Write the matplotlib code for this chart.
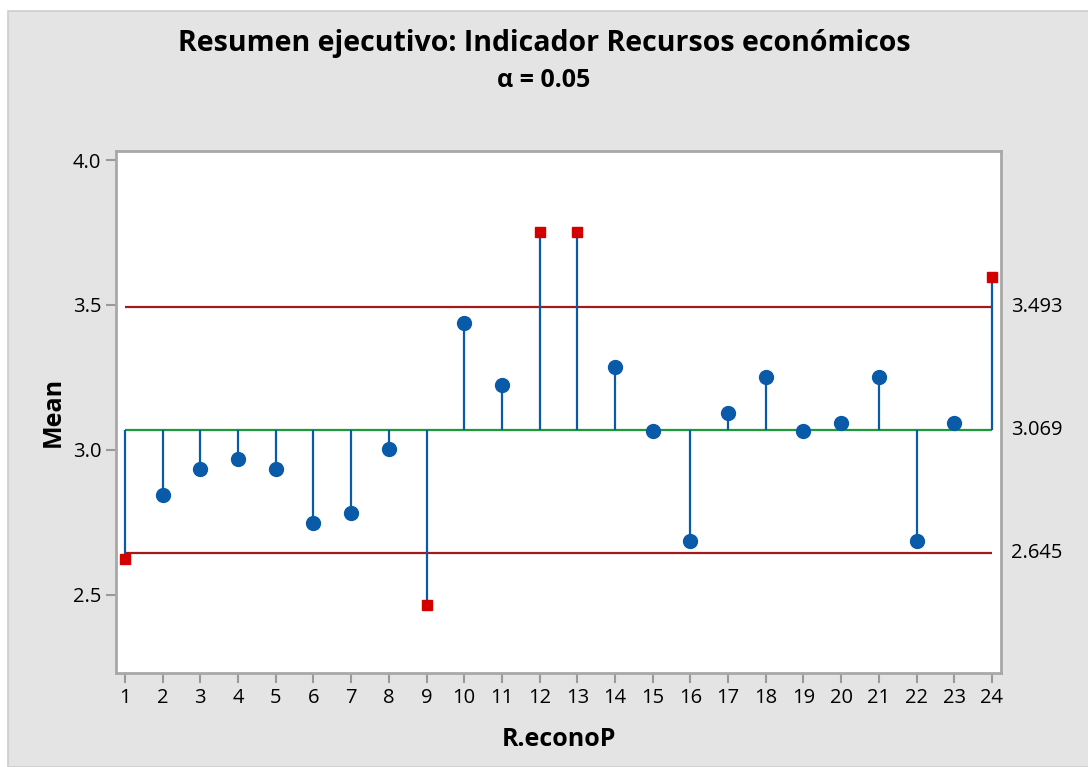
import matplotlib.pyplot as plt
from matplotlib.patches import Rectangle
import numpy as np

plt.rcParams['font.family'] = ['Open Sans', 'DejaVu Sans']

groups = list(range(1, 25))
means = [2.624, 2.845, 2.934, 2.969, 2.934, 2.748, 2.783, 3.003, 2.466, 3.438,
         3.224, 3.752, 3.752, 3.286, 3.066, 2.686, 3.128, 3.252, 3.066, 3.093,
         3.252, 2.686, 3.093, 3.597]
center = 3.069
ucl = 3.493
lcl = 2.645

x = np.array(groups)
y = np.array(means)
out = (y > ucl) | (y < lcl)

fig = plt.figure(figsize=(10.88, 7.67), dpi=100, facecolor='white')
# grey panel with thin border (white margin top/left as in the export)
fig.patches.append(Rectangle((8 / 1088, 0), 1.0, 1 - 11 / 767, transform=fig.transFigure,
                             facecolor='#e4e4e4', edgecolor='#cdcdcd', lw=1.2, zorder=-5))

ax = fig.add_axes([0.1066, 0.1226, 0.8134, 0.6805])
ax.set_facecolor('white')

blue = '#0a5aaa'
ax.vlines(x, center, y, color=blue, lw=1.6, zorder=2)
ax.hlines([ucl, lcl], 1, 24, color='#a01c1c', lw=1.6, zorder=1)
ax.hlines(center, 1, 24, color='#1f9a3a', lw=1.6, zorder=1)
ax.plot(x[~out], y[~out], 'o', color=blue, ms=10, zorder=3)
ax.plot(x[out], y[out], 's', color='#d40000', ms=7, zorder=3)

for v in (ucl, center, lcl):
    ax.text(1.011, v, f'{v:.3f}', transform=ax.get_yaxis_transform(),
            va='center', ha='left', fontsize=14.5)

ax.set_xlim(0.761, 24.24)
ax.set_ylim(2.231, 4.031)
ax.set_xticks(groups)
ax.set_yticks([2.5, 3.0, 3.5, 4.0])
ax.set_yticklabels(['2.5', '3.0', '3.5', '4.0'])
ax.tick_params(axis='both', colors='#999999', length=7, width=1.5,
               labelcolor='black', labelsize=14.5)

for s in ax.spines.values():
    s.set_color('#a8a8a8')
    s.set_linewidth(2)

ax.set_xlabel('R.econoP', fontsize=18, fontweight='bold', labelpad=14)
ax.set_ylabel('Mean', fontsize=18, fontweight='bold', labelpad=5)

fig.text(0.5, 0.943, 'Resumen ejecutivo: Indicador Recursos económicos',
         ha='center', va='center', fontsize=20.5, fontweight='bold')
fig.text(0.5, 0.895, 'α = 0.05', ha='center', va='center',
         fontsize=18, fontweight='bold')

fig.savefig('out.png', dpi=100, facecolor=fig.get_facecolor())
